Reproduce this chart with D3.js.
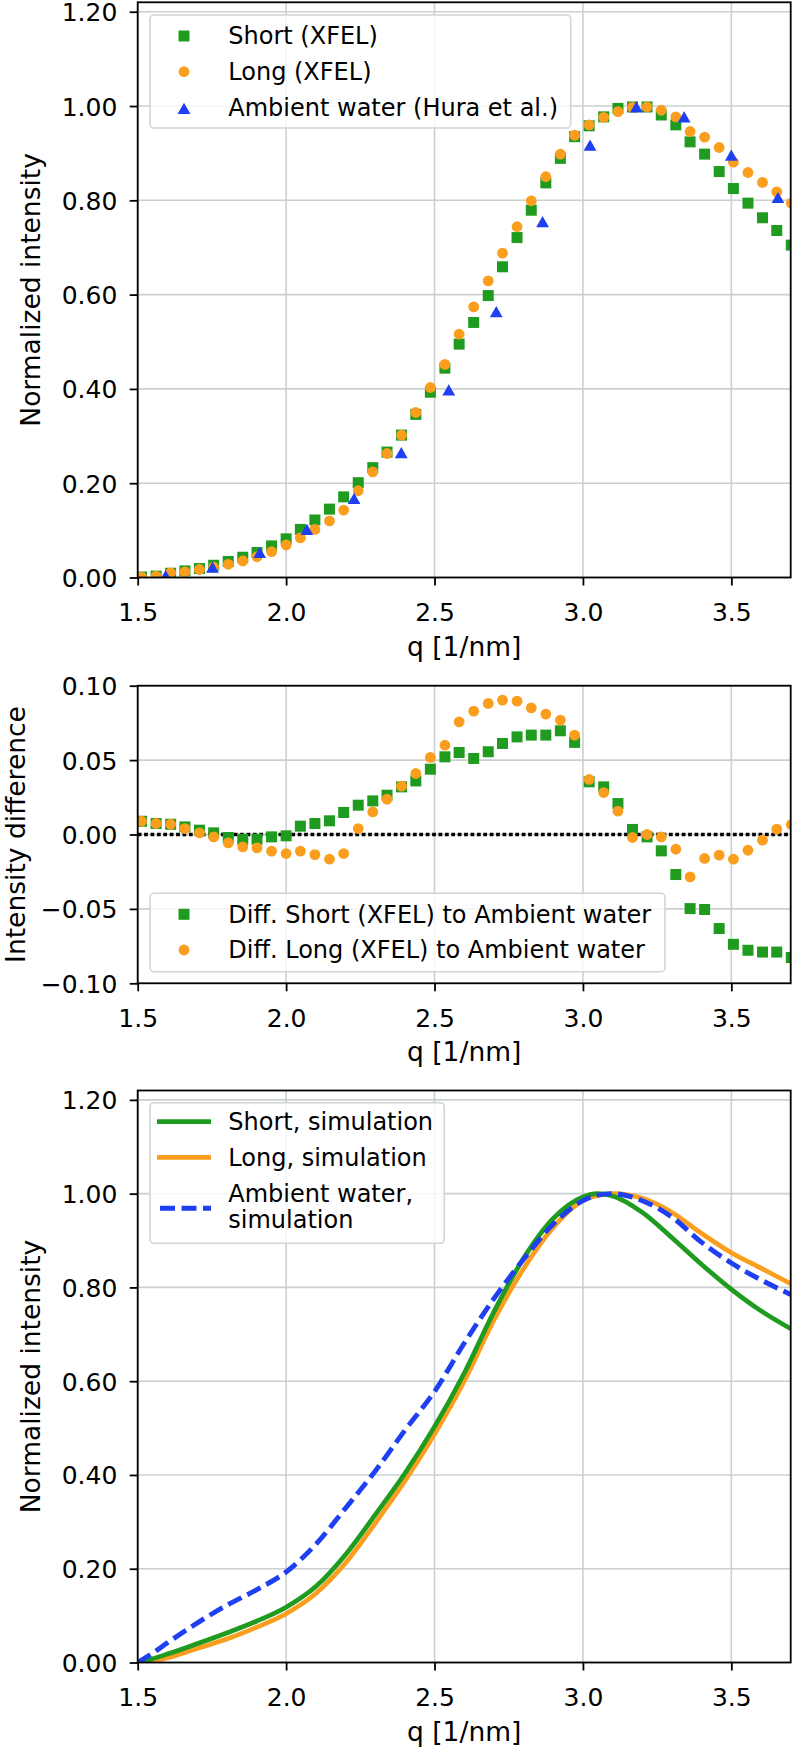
<!DOCTYPE html>
<html><head><meta charset="utf-8">
<script src="https://cdn.jsdelivr.net/npm/d3@7"></script>
<style>
body{margin:0;background:#fff}
svg{display:block}
text{font-family:"DejaVu Sans",sans-serif;fill:#000}
</style>
</head><body>
<svg id="c" width="796" height="1748"></svg>
<script>
// ---------- data ----------
const qGrid = [1.513,1.562,1.611,1.659,1.708,1.756,1.805,1.854,1.902,1.951,2.000,2.048,2.097,2.146,2.194,2.243,2.292,2.340,2.389,2.437,2.486,2.535,2.583,2.632,2.681,2.729,2.778,2.826,2.875,2.924,2.972,3.021,3.070,3.118,3.167,3.216,3.264,3.313,3.361,3.410,3.459,3.507,3.556,3.605,3.653,3.702];
const shortXfel = [0.001,0.003,0.009,0.014,0.019,0.026,0.034,0.043,0.053,0.067,0.082,0.102,0.122,0.145,0.171,0.201,0.233,0.266,0.302,0.346,0.393,0.444,0.495,0.541,0.598,0.659,0.721,0.779,0.837,0.889,0.935,0.958,0.977,0.995,0.998,0.998,0.981,0.960,0.924,0.898,0.861,0.825,0.794,0.763,0.736,0.705];
const longXfel = [0.001,0.003,0.010,0.012,0.017,0.022,0.028,0.035,0.044,0.055,0.069,0.084,0.102,0.120,0.143,0.184,0.224,0.263,0.302,0.350,0.403,0.452,0.516,0.574,0.629,0.688,0.744,0.799,0.850,0.898,0.938,0.960,0.976,0.988,0.997,0.998,0.991,0.977,0.946,0.934,0.912,0.881,0.859,0.838,0.818,0.794];
const huraQ = [1.594,1.752,1.911,2.070,2.229,2.388,2.548,2.708,2.864,3.024,3.180,3.341,3.500,3.657];
const huraI = [0.004,0.022,0.053,0.102,0.168,0.265,0.398,0.564,0.755,0.917,0.998,0.977,0.896,0.806];
const diffShort = [0.0089,0.0074,0.0069,0.0051,0.0029,0.0011,-0.0020,-0.0032,-0.0032,-0.0016,-0.0009,0.0056,0.0074,0.0092,0.0148,0.0197,0.0226,0.0264,0.0320,0.0360,0.0439,0.0522,0.0551,0.0511,0.0556,0.0612,0.0656,0.0668,0.0668,0.0697,0.0619,0.0354,0.0320,0.0208,0.0034,-0.0016,-0.0110,-0.0269,-0.0498,-0.0504,-0.0632,-0.0738,-0.0778,-0.0790,-0.0790,-0.0827];
const diffLong = [0.0089,0.0074,0.0069,0.0040,0.0011,-0.0016,-0.0056,-0.0083,-0.0090,-0.0112,-0.0128,-0.0112,-0.0135,-0.0166,-0.0128,0.0040,0.0152,0.0237,0.0325,0.0410,0.0518,0.0600,0.0757,0.0829,0.0881,0.0903,0.0896,0.0851,0.0809,0.0769,0.0668,0.0370,0.0282,0.0157,-0.0020,0.0000,-0.0016,-0.0099,-0.0285,-0.0161,-0.0139,-0.0166,-0.0106,-0.0038,0.0036,0.0067];
const simQ = [1.50,1.55,1.60,1.70,1.80,1.90,2.00,2.10,2.20,2.30,2.40,2.50,2.60,2.70,2.80,2.90,3.00,3.05,3.10,3.20,3.30,3.40,3.50,3.60,3.70];
const simShort = [0.000,0.008,0.018,0.040,0.063,0.088,0.118,0.162,0.230,0.315,0.403,0.503,0.617,0.748,0.862,0.947,0.993,1.000,0.995,0.960,0.906,0.849,0.796,0.750,0.712];
const simLong = [0.000,0.003,0.010,0.030,0.050,0.075,0.104,0.147,0.212,0.297,0.387,0.487,0.600,0.730,0.840,0.928,0.985,0.996,1.000,0.990,0.960,0.915,0.874,0.841,0.808];
const simAmbient = [0.000,0.020,0.042,0.084,0.122,0.155,0.193,0.252,0.329,0.408,0.495,0.578,0.681,0.776,0.860,0.935,0.985,0.997,1.000,0.985,0.950,0.896,0.852,0.816,0.785];
const xTicks = [1.5,2.0,2.5,3.0,3.5];
const yTicksIntensity = [0,0.2,0.4,0.6,0.8,1.0,1.2];
const yTicksDiff = [-0.10,-0.05,0,0.05,0.10];

// ---------- style ----------
const GREEN = "#1f9c1f", ORANGE = "#fb9d1d", BLUE = "#1f3ff2";
const GRID = "#cad0d0";
const TICKFS = 25, LABELFS = 26.5, LEGFS = 24;
const L = 137.7, R = 790.7;

const svg = d3.select("#c");
const x = d3.scaleLinear().domain([1.5, 3.7]).range([L, R]);

function panel(id, top, bottom, yDomain, yTicks, ylabel, ylabelX) {
  const y = d3.scaleLinear().domain(yDomain).range([bottom, top]);
  const g = svg.append("g");
  g.append("g").selectAll("line").data(xTicks).join("line")
    .attr("x1", d => x(d)).attr("x2", d => x(d)).attr("y1", top).attr("y2", bottom)
    .attr("stroke", GRID).attr("stroke-width", 1.6);
  g.append("g").selectAll("line").data(yTicks).join("line")
    .attr("y1", d => y(d)).attr("y2", d => y(d)).attr("x1", L).attr("x2", R)
    .attr("stroke", GRID).attr("stroke-width", 1.6);
  svg.append("clipPath").attr("id", id).append("rect")
    .attr("x", L).attr("y", top).attr("width", R - L).attr("height", bottom - top);
  const data = svg.append("g").attr("clip-path", `url(#${id})`);
  const ax = g.append("g").attr("transform", `translate(0,${bottom})`)
    .call(d3.axisBottom(x).tickValues(xTicks).tickFormat(d3.format(".1f")).tickSize(8).tickPadding(17.5));
  const ay = g.append("g").attr("transform", `translate(${L},0)`)
    .call(d3.axisLeft(y).tickValues(yTicks).tickFormat(d3.format(".2f")).tickSize(8).tickPadding(12.4));
  [ax, ay].forEach(a => {
    a.select(".domain").remove();
    a.selectAll(".tick line").attr("stroke", "#000").attr("stroke-width", 1.8);
    a.selectAll(".tick text").attr("font-size", TICKFS).attr("font-family", "DejaVu Sans").attr("fill", "#000");
  });
  ay.selectAll(".tick text").attr("dy", "0.36em");
  g.append("text").attr("x", (L + R) / 2).attr("y", bottom + 78)
    .attr("text-anchor", "middle").attr("font-size", LABELFS).text("q [1/nm]");
  g.append("text").attr("transform", `translate(${ylabelX},${(top + bottom) / 2}) rotate(-90)`)
    .attr("text-anchor", "middle").attr("font-size", LABELFS).text(ylabel);
  const frame = () => svg.append("rect").attr("x", L).attr("y", top).attr("width", R - L).attr("height", bottom - top)
    .attr("fill", "none").attr("stroke", "#000").attr("stroke-width", 1.8);
  return {y, data, frame};
}

function squares(sel, xs, ys, xS, yS, color) {
  sel.append("g").selectAll("rect").data(xs.map((d, i) => [d, ys[i]])).join("rect")
    .attr("x", d => xS(d[0]) - 5.5).attr("y", d => yS(d[1]) - 5.5)
    .attr("width", 11).attr("height", 11).attr("fill", color);
}
function circles(sel, xs, ys, xS, yS, color) {
  sel.append("g").selectAll("circle").data(xs.map((d, i) => [d, ys[i]])).join("circle")
    .attr("cx", d => xS(d[0])).attr("cy", d => yS(d[1])).attr("r", 5.4).attr("fill", color);
}
function triPath(cx, cy) {
  const w = 6.4, h = 5.6;
  return `M${cx},${cy - h}L${cx + w},${cy + h}L${cx - w},${cy + h}Z`;
}
function triangles(sel, xs, ys, xS, yS, color) {
  sel.append("g").selectAll("path").data(xs.map((d, i) => [d, ys[i]])).join("path")
    .attr("d", d => triPath(xS(d[0]), yS(d[1]))).attr("fill", color);
}
function legendBox(x0, y0, w, h) {
  svg.append("rect").attr("x", x0).attr("y", y0).attr("width", w).attr("height", h)
    .attr("rx", 4).attr("fill", "#fff").attr("fill-opacity", 0.8)
    .attr("stroke", "#d2d4d4").attr("stroke-width", 1.6);
}
function legText(xx, yy, t) {
  svg.append("text").attr("x", xx).attr("y", yy).attr("font-size", LEGFS).text(t);
}

// ---------- panel 1 ----------
const p1 = panel("clip1", 2.3, 577.5, [0, 1.22], yTicksIntensity, "Normalized intensity", 40);
squares(p1.data, qGrid, shortXfel, x, p1.y, GREEN);
circles(p1.data, qGrid, longXfel, x, p1.y, ORANGE);
triangles(p1.data, huraQ, huraI, x, p1.y, BLUE);
p1.frame();
legendBox(150, 15, 420.7, 113);
svg.append("rect").attr("x", 178.5).attr("y", 30.5).attr("width", 11).attr("height", 11).attr("fill", GREEN);
svg.append("circle").attr("cx", 184).attr("cy", 71.7).attr("r", 5.4).attr("fill", ORANGE);
svg.append("path").attr("d", triPath(184, 108.3)).attr("fill", BLUE);
legText(228.3, 44, "Short (XFEL)");
legText(228.3, 79.7, "Long (XFEL)");
legText(228.3, 116.3, "Ambient water (Hura et al.)");

// ---------- panel 2 ----------
const p2 = panel("clip2", 685.7, 983.3, [-0.1, 0.1], yTicksDiff, "Intensity difference", 25);
p2.data.append("line").attr("x1", L).attr("x2", R).attr("y1", p2.y(0)).attr("y2", p2.y(0))
  .attr("stroke", "#000").attr("stroke-width", 3.6).attr("stroke-dasharray", "3.8,2.6");
squares(p2.data, qGrid, diffShort, x, p2.y, GREEN);
circles(p2.data, qGrid, diffLong, x, p2.y, ORANGE);
p2.frame();
legendBox(150, 893.3, 515, 78.4);
svg.append("rect").attr("x", 178.5).attr("y", 908.8).attr("width", 11).attr("height", 11).attr("fill", GREEN);
svg.append("circle").attr("cx", 184).attr("cy", 950).attr("r", 5.4).attr("fill", ORANGE);
legText(228.3, 922.5, "Diff. Short (XFEL) to Ambient water");
legText(228.3, 958, "Diff. Long (XFEL) to Ambient water");

// ---------- panel 3 ----------
const p3 = panel("clip3", 1090.5, 1662.5, [0, 1.22], yTicksIntensity, "Normalized intensity", 40);
const line = d3.line().curve(d3.curveMonotoneX).x(d => x(d[0])).y(d => p3.y(d[1]));
p3.data.append("path").attr("d", line(simQ.map((d, i) => [d, simLong[i]])))
  .attr("fill", "none").attr("stroke", ORANGE).attr("stroke-width", 4.7);
p3.data.append("path").attr("d", line(simQ.map((d, i) => [d, simShort[i]])))
  .attr("fill", "none").attr("stroke", GREEN).attr("stroke-width", 4.7);
p3.data.append("path").attr("d", line(simQ.map((d, i) => [d, simAmbient[i]])))
  .attr("fill", "none").attr("stroke", BLUE).attr("stroke-width", 4.9).attr("stroke-dasharray", "15,6.5");
p3.frame();
legendBox(150, 1102.7, 294.3, 140.6);
svg.append("line").attr("x1", 157).attr("x2", 211).attr("y1", 1121.7).attr("y2", 1121.7).attr("stroke", GREEN).attr("stroke-width", 4.7);
svg.append("line").attr("x1", 157).attr("x2", 211).attr("y1", 1157.3).attr("y2", 1157.3).attr("stroke", ORANGE).attr("stroke-width", 4.7);
svg.append("line").attr("x1", 160).attr("x2", 211).attr("y1", 1208.3).attr("y2", 1208.3).attr("stroke", BLUE).attr("stroke-width", 4.9).attr("stroke-dasharray", "15,6.5");
legText(228.3, 1130, "Short, simulation");
legText(228.3, 1165.7, "Long, simulation");
legText(228.3, 1201.7, "Ambient water,");
legText(228.3, 1228.3, "simulation");
</script>
</body></html>
